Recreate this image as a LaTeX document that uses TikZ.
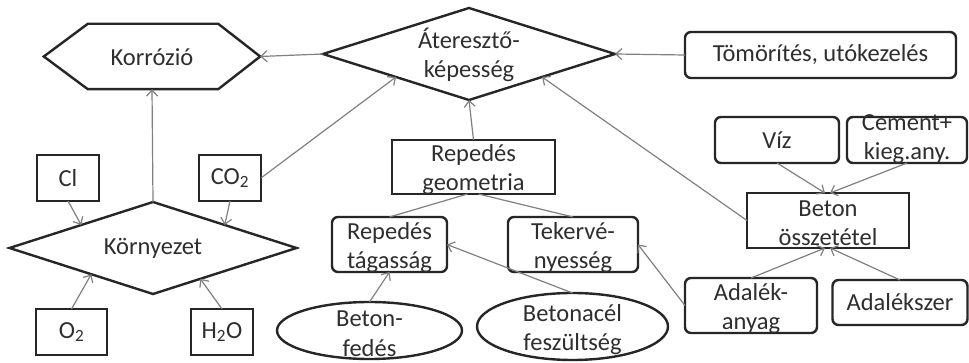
\documentclass[tikz,border=0pt]{standalone}
\usepackage{fontspec}
\setmainfont{Carlito}
\usetikzlibrary{shapes.geometric,arrows.meta,calc}
\definecolor{edgec}{HTML}{262626}
\definecolor{connc}{HTML}{808080}
\definecolor{txtc}{HTML}{2E2E2E}
\begin{document}
\begin{tikzpicture}[x=1pt,y=-1pt,
  shp/.style={draw=edgec,line width=2.4pt,inner sep=0pt,outer sep=0pt},
  sbox/.style={shp,rectangle},
  rbox/.style={shp,rectangle,rounded corners=6pt},
  dia/.style={shp,diamond,aspect=3.17},
  ell/.style={shp,ellipse},
  txt/.style={text=txtc,align=center,inner sep=0pt,font=\fontsize{24.5}{29.5}\selectfont},
  conn/.style={draw=connc,line width=1.2pt,-{Straight Barb[length=6pt,width=11pt]}},
  plain/.style={draw=connc,line width=1.2pt}]
\useasboundingbox[fill=white] (0,0) rectangle (969,363);

% Korrozio hexagon
\node[minimum width=216pt,minimum height=65pt,inner sep=0pt] (korr) at (152,56.5) {};
\draw[shp] (korr.west) -- ($(korr.north west)+(44,0)$) -- ($(korr.north east)+(-42,0)$) -- (korr.east)
  -- ($(korr.south east)+(-42,0)$) -- ($(korr.south west)+(44,0)$) -- cycle;
\node[txt] (korr-t) at ($(korr)+(0,1)$) {Korrózió};

% Ateresztokepesseg
\node[dia,minimum width=292pt,minimum height=92pt] (ater) at (469,54) {};
\node[txt] (ater-t) at ($(ater)+(0,1)$) {Áteresztő-\\képesség};

\node[rbox,minimum width=271pt,minimum height=46pt] (tom) at (820.5,55) {};
\node[txt] (tom-t) at (tom) {Tömörítés, utókezelés};

% environment
\node[sbox,minimum width=62pt,minimum height=46pt] (cl) at (68,178) {};
\node[txt] (cl-t) at (cl) {Cl};
\node[sbox,minimum width=62pt,minimum height=46pt] (co2) at (230,178) {};
\node[txt] (co2-t) at (co2) {CO\textsubscript{2}};
\node[dia,minimum width=287pt,minimum height=92pt] (korny) at (153,248) {};
\node[txt] (korny-t) at (korny) {Környezet};
\node[sbox,minimum width=71pt,minimum height=46pt] (o2) at (71.5,332) {};
\node[txt] (o2-t) at (o2) {O\textsubscript{2}};
\node[sbox,minimum width=62pt,minimum height=46pt] (h2o) at (222,332) {};
\node[txt] (h2o-t) at (h2o) {H\textsubscript{2}O};

% crack
\node[sbox,minimum width=163pt,minimum height=54pt] (geo) at (473.5,167) {};
\node[txt] (geo-t) at ($(geo)+(0,2.5)$) {Repedés\\geometria};
\node[rbox,minimum width=115pt,minimum height=55pt] (tag) at (389.5,244.5) {};
\node[txt] (tag-t) at ($(tag)+(0,3)$) {Repedés\\tágasság};
\node[rbox,minimum width=130pt,minimum height=55pt] (tek) at (573,244.5) {};
\node[txt] (tek-t) at ($(tek)+(0,3)$) {Tekervé-\\nyesség};
\node[ell,minimum width=185pt,minimum height=57pt] (fed) at (369.5,330.5) {};
\node[txt] (fed-t) at ($(fed)+(0,3)$) {Beton-\\fedés};
\node[ell,minimum width=191pt,minimum height=67pt] (acel) at (572.5,326.5) {};
\node[txt] (acel-t) at ($(acel)+(0,3)$) {Betonacél\\feszültség};

% concrete composition
\node[rbox,minimum width=124pt,minimum height=46pt] (viz) at (777,140) {};
\node[txt] (viz-t) at (viz) {Víz};
\node[rbox,minimum width=120pt,minimum height=46pt] (cem) at (907,140) {};
\node[txt] (cem-t) at ($(cem)+(0,-1)$) {Cement+\\kieg.any.};
\node[sbox,minimum width=162pt,minimum height=55pt] (beton) at (828,220.5) {};
\node[txt] (beton-t) at ($(beton)+(0,2.5)$) {Beton\\összetétel};
\node[rbox,minimum width=132pt,minimum height=55pt] (adal) at (751,305.5) {};
\node[txt] (adal-t) at ($(adal)+(0,3)$) {Adalék-\\anyag};
\node[rbox,minimum width=135pt,minimum height=45pt] (adsz) at (900,302.5) {};
\node[txt] (adsz-t) at (adsz) {Adalékszer};

% connectors
\draw[conn] (ater.west) -- (korr.east);
\draw[conn] (tom.west) -- (ater.east);
\draw[conn] (korny.north) -- (korr.south);
\draw[conn] (cl.south) -- (korny.north west);
\draw[conn] (co2.south) -- (korny.north east);
\draw[conn] (o2.north) -- ($(korny.west)!0.57!(korny.south)$);
\draw[conn] (h2o.north) -- ($(korny.south)!0.33!(korny.east)$);
\draw[conn] (co2.east) -- (ater.south west);
\draw[conn] (geo.north) -- (ater.south);
\draw[plain] ($(geo.south)+(-6,0)$) -- (tag.north);
\draw[plain] ($(geo.south)+(5,0)$) -- (tek.north);
\draw[conn] (fed.north) -- (tag.south);
\draw[conn] (acel.north) -- (tag.east);
\draw[conn] (adal.west) -- (tek.east);
\draw[conn] (beton.west) -- (ater.south east);
\draw[conn] (viz.south) -- ($(beton.north)+(-3,0)$);
\draw[conn] (cem.south) -- ($(beton.north)+(2,0)$);
\draw[conn] (adal.north) -- ($(beton.south)+(-3,0)$);
\draw[conn] (adsz.north) -- ($(beton.south)+(2,0)$);
\end{tikzpicture}
\end{document}
